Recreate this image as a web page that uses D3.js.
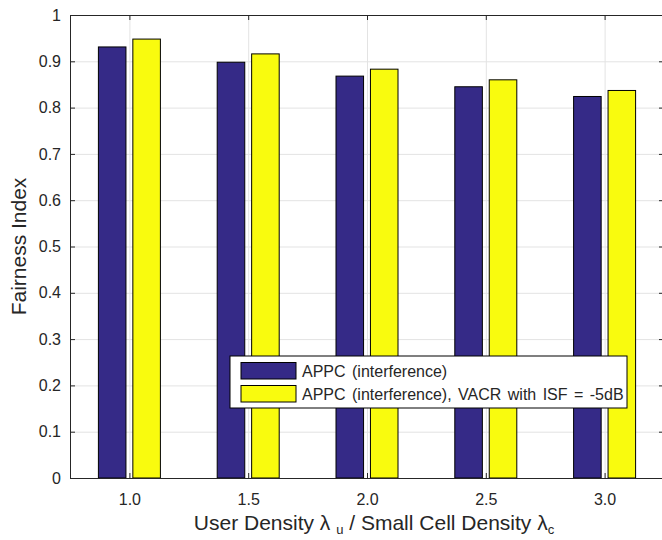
<!DOCTYPE html>
<html>
<head>
<meta charset="utf-8">
<script src="https://cdn.jsdelivr.net/npm/d3@7"></script>
<style>
  body { margin: 0; background: #fff; }
  text { font-family: "Liberation Sans", Arial, sans-serif; fill: #262626; }
  .grid line { stroke: #e3e3e3; }
  .grid path { stroke: none; }
  .axis path, .axis line { stroke: #262626; }
</style>
</head>
<body>
<div id="chart"></div>
<script>
// chart data
var densities = [1.0, 1.5, 2.0, 2.5, 3.0];
var seriesNames = ["APPC (interference)", "APPC (interference), VACR with ISF = -5dB"];
var appc = [0.931, 0.898, 0.868, 0.845, 0.824];
var appcVacr = [0.948, 0.916, 0.883, 0.860, 0.837];
var seriesColors = ["#352a87", "#f9fb0e"];
var yTicks = [0, 0.1, 0.2, 0.3, 0.4, 0.5, 0.6, 0.7, 0.8, 0.9, 1];

var svgWidth = 662;
var svgHeight = 540;

var margin = { top: 15, right: -2, bottom: 62, left: 70 };
var width = svgWidth - margin.left - margin.right;
var height = svgHeight - margin.top - margin.bottom;

var svg = d3.select("#chart")
  .append("svg")
  .attr("width", svgWidth)
  .attr("height", svgHeight);

var chartG = svg.append("g")
  .attr("transform", `translate(${margin.left}, ${margin.top})`);

var xScale = d3.scaleLinear().domain([0.75, 3.25]).range([0, width]);
var yScale = d3.scaleLinear().domain([0, 1]).range([height, 0]);

// offset of each series inside a group
var inner = d3.scaleBand().domain([0, 1]).range([-31, 31]).paddingInner(0.2);

// grid lines
chartG.append("g")
  .attr("class", "grid")
  .call(d3.axisLeft(yScale).tickValues(yTicks).tickSize(-width).tickFormat(""));
chartG.append("g")
  .attr("class", "grid")
  .attr("transform", `translate(0, ${height})`)
  .call(d3.axisBottom(xScale).tickValues(densities).tickSize(-height).tickFormat(""));

// bars
var allSeries = [appc, appcVacr];
allSeries.forEach(function(values, s) {
  chartG.selectAll(".bar" + s)
    .data(values)
    .enter()
    .append("rect")
    .attr("x", (d, i) => xScale(densities[i]) + inner(s))
    .attr("y", d => yScale(d))
    .attr("width", inner.bandwidth())
    .attr("height", d => height - yScale(d))
    .attr("fill", seriesColors[s])
    .attr("stroke", "#000")
    .attr("stroke-width", 1);
});

// axes (box with inward ticks)
var bottomAxis = d3.axisBottom(xScale).tickValues(densities)
  .tickFormat(d3.format(".1f")).tickSizeInner(-5).tickSizeOuter(0).tickPadding(16);
var leftAxis = d3.axisLeft(yScale).tickValues(yTicks)
  .tickFormat(d => d === 0 || d === 1 ? String(d) : d3.format(".1f")(d))
  .tickSizeInner(-5).tickSizeOuter(0).tickPadding(9);

chartG.append("g")
  .attr("class", "axis")
  .attr("transform", `translate(0, ${height})`)
  .call(bottomAxis)
  .selectAll("text").style("font-size", "16px");

chartG.append("g")
  .attr("class", "axis")
  .call(leftAxis)
  .selectAll("text").style("font-size", "16px");

chartG.append("g")
  .attr("class", "axis")
  .call(d3.axisTop(xScale).tickValues(densities).tickSizeInner(-5).tickSizeOuter(0).tickFormat(""));

chartG.append("g")
  .attr("class", "axis")
  .attr("transform", `translate(${width}, 0)`)
  .call(d3.axisRight(yScale).tickValues(yTicks).tickSizeInner(-5).tickSizeOuter(0).tickFormat(""));

// axis labels
var xTitle = svg.append("text")
  .attr("x", 374)
  .attr("y", 530)
  .attr("text-anchor", "middle")
  .style("font-size", "21px");
xTitle.append("tspan").text("User Density \u03bb ");
xTitle.append("tspan").attr("dy", 4).style("font-size", "13px").text("u");
xTitle.append("tspan").attr("dy", -4).text(" / Small Cell Density \u03bb");
xTitle.append("tspan").attr("dy", 4).style("font-size", "13px").text("c");

svg.append("text")
  .attr("transform", "rotate(-90)")
  .attr("x", -(margin.top + height / 2))
  .attr("y", 26)
  .attr("text-anchor", "middle")
  .style("font-size", "21px")
  .text("Fairness Index");

// legend
var legendG = svg.append("g").attr("transform", "translate(230, 356)");
legendG.append("rect")
  .attr("width", 397)
  .attr("height", 52)
  .attr("fill", "#fff")
  .attr("stroke", "#000");

var legendItems = legendG.selectAll(".item")
  .data(seriesNames)
  .enter()
  .append("g")
  .attr("transform", (d, i) => `translate(11, ${6.5 + i * 23})`);

legendItems.append("rect")
  .attr("width", 55)
  .attr("height", 16.5)
  .attr("fill", (d, i) => seriesColors[i])
  .attr("stroke", "#000");

legendItems.append("text")
  .attr("x", 61)
  .attr("y", 14.5)
  .style("font-size", "16px")
  .style("word-spacing", "2px")
  .text(d => d);
</script>
</body>
</html>
